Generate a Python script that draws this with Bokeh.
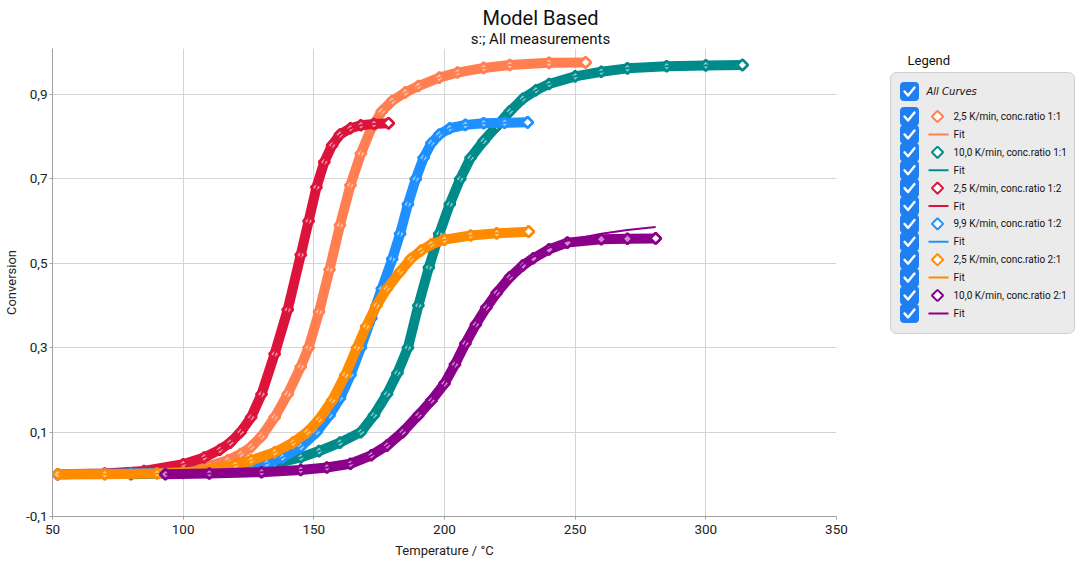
import math
from bokeh.plotting import figure
from bokeh.models import Range1d, FixedTicker, CustomJSTickFormatter
from bokeh.layouts import column, row
from bokeh.core.properties import value
from bokeh.embed import file_html
from bokeh.resources import INLINE

FONT = "Roboto"

# ---------------- data ----------------
title_text = "Model Based"
subtitle_text = "s:; All measurements"
x_label = "Temperature / \u00b0C"
y_label = "Conversion"
x_ticks = [50, 100, 150, 200, 250, 300, 350]
y_ticks = [-0.1, 0.1, 0.3, 0.5, 0.7, 0.9]

series_names = [
    "2,5 K/min, conc.ratio 1:1",
    "10,0 K/min, conc.ratio 1:1",
    "2,5 K/min, conc.ratio 1:2",
    "9,9 K/min, conc.ratio 1:2",
    "2,5 K/min, conc.ratio 2:1",
    "10,0 K/min, conc.ratio 2:1",
]
series_colors = ["#ff7f50", "#008b8b", "#dc143c", "#1e90ff", "#ff8c00", "#8b008b"]

coral_T = [52, 70, 85, 100, 110, 117, 122, 126, 130, 135, 140, 145, 148, 152, 156, 160,
           164, 168, 172, 176, 180, 185, 190, 198, 205, 215, 225, 240, 254]
coral_X = [0.0, 0.001, 0.004, 0.012, 0.02, 0.033, 0.048, 0.065, 0.09, 0.135, 0.19, 0.255,
           0.3, 0.385, 0.485, 0.59, 0.685, 0.76, 0.82, 0.86, 0.885, 0.905, 0.92, 0.94,
           0.952, 0.963, 0.97, 0.975, 0.976]
coral_fit = coral_X

teal_T = [80, 100, 115, 125, 135, 145, 152, 160, 168, 173, 178, 182, 186, 190, 194, 198,
          202, 206, 210, 215, 220, 225, 230, 235, 240, 250, 260, 270, 285, 300, 314]
teal_X = [0.0, 0.003, 0.008, 0.015, 0.025, 0.04, 0.055, 0.075, 0.1, 0.14, 0.19, 0.24,
          0.3, 0.4, 0.49, 0.57, 0.64, 0.7, 0.75, 0.79, 0.825, 0.86, 0.89, 0.91, 0.925,
          0.943, 0.954, 0.962, 0.967, 0.969, 0.97]
teal_fit = teal_X

red_T = [52, 70, 85, 100, 108, 114, 118, 122, 126, 130, 135, 140, 145, 148, 151, 154,
         157, 160, 164, 168, 173, 178.6]
red_X = [0.0, 0.002, 0.008, 0.024, 0.04, 0.058, 0.075, 0.1, 0.135, 0.19, 0.285, 0.39,
         0.52, 0.6, 0.68, 0.74, 0.78, 0.805, 0.82, 0.827, 0.83, 0.832]
red_fit = red_X

blue_T = [52, 80, 100, 115, 125, 132, 138, 145, 151, 156, 160, 164, 168, 172, 176, 180,
          183, 186, 189, 192, 195, 198, 202, 208, 215, 223, 231.8]
blue_X = [0.0, 0.002, 0.005, 0.01, 0.017, 0.026, 0.04, 0.065, 0.1, 0.14, 0.18, 0.235,
          0.3, 0.37, 0.44, 0.51, 0.57, 0.64, 0.7, 0.75, 0.785, 0.805, 0.82, 0.828, 0.832,
          0.833, 0.834]
blue_fit = blue_X

orange_T = [52, 70, 90, 100, 110, 120, 126, 135, 142, 147.5, 152, 157, 162, 166.5, 170,
            174, 178, 183, 187, 191, 195, 200, 210, 220, 232.2]
orange_X = [0.0, 0.0, 0.002, 0.004, 0.01, 0.022, 0.033, 0.052, 0.075, 0.1, 0.13, 0.175,
            0.235, 0.3, 0.35, 0.4, 0.44, 0.48, 0.51, 0.53, 0.545, 0.556, 0.566, 0.571, 0.575]
orange_fit = orange_X

purple_T = [93.2, 110, 130, 145, 155, 164, 172, 178, 184, 190, 195, 200, 204, 208, 212,
            216, 220, 225, 230, 234, 240, 247, 260, 270, 280.8]
purple_X = [0.0, 0.002, 0.005, 0.01, 0.016, 0.025, 0.045, 0.068, 0.1, 0.14, 0.175, 0.215,
            0.26, 0.31, 0.355, 0.395, 0.43, 0.467, 0.495, 0.512, 0.533, 0.549, 0.557,
            0.558, 0.559]
purple_fit = [0.0, 0.002, 0.005, 0.01, 0.016, 0.025, 0.045, 0.068, 0.1, 0.14, 0.175, 0.215,
              0.26, 0.31, 0.355, 0.395, 0.43, 0.467, 0.497, 0.516, 0.537, 0.554, 0.57,
              0.579, 0.586]

series_T = [coral_T, teal_T, red_T, blue_T, orange_T, purple_T]
series_X = [coral_X, teal_X, red_X, blue_X, orange_X, purple_X]
series_fit = [coral_fit, teal_fit, red_fit, blue_fit, orange_fit, purple_fit]

# ---------------- title strip ----------------
TW, TH = 1076, 48
tf = figure(width=TW, height=TH, x_range=Range1d(0, TW), y_range=Range1d(TH, 0),
            output_backend="svg", toolbar_location=None, min_border=0)
tf.axis.visible = False
tf.grid.visible = False
tf.outline_line_color = None
tf.text(x=[540], y=[17], text=[title_text], text_align="center", text_baseline="middle",
        text_font=value(FONT), text_font_size="20px", text_color="#111111")
tf.text(x=[540], y=[38], text=[subtitle_text], text_align="center", text_baseline="middle",
        text_font=value(FONT), text_font_size="15px", text_color="#111111")

# ---------------- main plot ----------------
MH, MB = 512, 44
p = figure(width=860, height=MH, x_range=Range1d(50, 350), y_range=Range1d(-0.1, 1.009),
           output_backend="svg", toolbar_location=None,
           min_border_left=52, min_border_right=24, min_border_top=0, min_border_bottom=MB)
p.outline_line_color = None
p.background_fill_color = "white"

p.xaxis.ticker = FixedTicker(ticks=x_ticks)
p.yaxis.ticker = FixedTicker(ticks=y_ticks)
p.yaxis.formatter = CustomJSTickFormatter(code="return tick.toFixed(1).replace('.', ',');")
p.xaxis.axis_label = x_label
p.yaxis.axis_label = y_label
for ax in (p.xaxis, p.yaxis):
    ax.axis_line_color = "#a0a0a0"
    ax.major_tick_line_color = "#a0a0a0"
    ax.major_tick_out = 3
    ax.major_tick_in = 0
    ax.minor_tick_out = 0
    ax.minor_tick_in = 0
    ax.major_label_text_font = FONT
    ax.major_label_text_font_size = "13.5px"
    ax.major_label_text_color = "#222222"
    ax.axis_label_text_font = FONT
    ax.axis_label_text_font_size = "13px"
    ax.axis_label_text_font_style = "normal"
    ax.axis_label_text_color = "#222222"
p.yaxis.major_label_standoff = 2
p.yaxis.axis_label_standoff = 4
p.xaxis.major_label_standoff = 5
p.xaxis.axis_label_standoff = 6
p.xgrid.grid_line_color = "#d4d4d4"
p.ygrid.grid_line_color = "#d4d4d4"

for T, X, F, c in zip(series_T, series_X, series_fit, series_colors):
    p.line(T, X, line_width=10, color=c, line_cap="round", line_join="round")
    p.scatter(T, X, marker="square", angle=math.pi / 4, size=7.5, fill_color="white",
              fill_alpha=0.55, line_color=c, line_width=2.8)
    p.line(T, F, line_width=2, color=c)
    p.scatter([T[-1]], [X[-1]], marker="square", angle=math.pi / 4, size=7.5,
              fill_color="white", line_color=c, line_width=2.5)

# ---------------- legend panel ----------------
LW = 216
FH = MH - MB  # frame height (frames are aligned inside the row)
lf = figure(width=LW, height=MH, x_range=Range1d(0, LW), y_range=Range1d(FH, 0),
            output_backend="svg", toolbar_location=None, min_border=0,
            min_border_bottom=MB)
lf.axis.visible = False
lf.grid.visible = False
lf.outline_line_color = None

lf.text(x=[47], y=[12], text=["Legend"], text_align="left", text_baseline="middle",
        text_font=value(FONT), text_font_size="13px", text_color="#111111")
lf.quad(left=[30], right=[214], top=[24], bottom=[285], fill_color="#ebebeb",
        line_color="#cfcfcf", line_width=1, border_radius=6)

CB = "#1f7ff0"
row_labels = []
row_colors = []
row_is_fit = []
for n, c in zip(series_names, series_colors):
    row_labels += [n, "Fit"]
    row_colors += [c, c]
    row_is_fit += [False, True]

BX0, BX1 = 40, 58
box_cy = [43] + [68 + 17.9 * i for i in range(len(row_labels))]
lf.quad(left=[BX0] * len(box_cy), right=[BX1] * len(box_cy),
        top=[cy - 9 for cy in box_cy], bottom=[cy + 9 for cy in box_cy],
        fill_color=CB, line_color=CB, border_radius=3)
lf.multi_line(xs=[[BX0 + 4, BX0 + 7.5, BX0 + 14] for _ in box_cy],
              ys=[[cy, cy + 4, cy - 4] for cy in box_cy],
              line_color="white", line_width=2.4, line_cap="round", line_join="round")

lf.text(x=[66], y=[43], text=["All Curves"], text_align="left", text_baseline="middle",
        text_font=value("DejaVu Sans"), text_font_size="10px", text_font_style="italic",
        text_color="#111111")

mk_x, mk_y, mk_c = [], [], []
fl_xs, fl_ys, fl_c = [], [], []
for i, (lab, c, isfit) in enumerate(zip(row_labels, row_colors, row_is_fit)):
    cy = box_cy[i + 1]
    if isfit:
        fl_xs.append([68, 88]); fl_ys.append([cy, cy]); fl_c.append(c)
    else:
        mk_x.append(77); mk_y.append(cy); mk_c.append(c)
lf.scatter(mk_x, mk_y, marker="square", angle=math.pi / 4, size=8, fill_color="white",
           line_color=mk_c, line_width=2)
lf.multi_line(xs=fl_xs, ys=fl_ys, line_color=fl_c, line_width=2)
lf.text(x=[93] * len(row_labels), y=box_cy[1:], text=row_labels, text_align="left",
        text_baseline="middle", text_font=value(FONT), text_font_size="10px",
        text_color="#111111")

layout = column(tf, row(p, lf))
open("out.html", "w").write(file_html(layout, INLINE))
